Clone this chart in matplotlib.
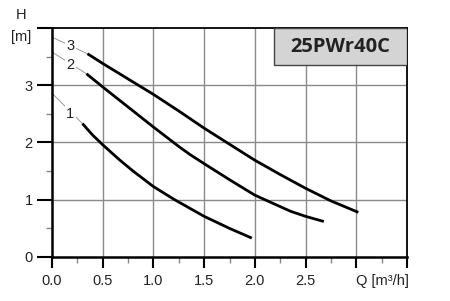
import matplotlib
matplotlib.use("Agg")
import matplotlib.pyplot as plt
from matplotlib.patches import Rectangle
import numpy as np

plt.rcParams['font.family'] = ['Liberation Sans', 'DejaVu Sans']

# Data
q1 = [0.30, 0.40, 0.50, 0.67, 0.80, 1.00, 1.20, 1.36, 1.50, 1.75, 1.97]
h1 = [2.33, 2.13, 1.96, 1.69, 1.50, 1.23, 1.01, 0.85, 0.71, 0.50, 0.33]
q2 = [0.34, 0.50, 0.75, 1.00, 1.25, 1.36, 1.50, 1.75, 2.00, 2.20, 2.35, 2.50, 2.68]
h2 = [3.20, 2.97, 2.62, 2.27, 1.93, 1.79, 1.63, 1.35, 1.08, 0.92, 0.80, 0.71, 0.62]
q3 = [0.35, 0.50, 0.75, 1.00, 1.25, 1.50, 1.75, 2.00, 2.25, 2.50, 2.75, 3.02]
h3 = [3.55, 3.38, 3.11, 2.84, 2.55, 2.25, 1.97, 1.69, 1.44, 1.20, 0.98, 0.78]
curve_labels = ["1", "2", "3"]
leader_start_h = [2.86, 3.58, 3.84]
label_pos = [(0.18, 2.50), (0.18, 3.35), (0.18, 3.68)]
x_ticks = [0.0, 0.5, 1.0, 1.5, 2.0, 2.5, 3.0, 3.5]
x_ticklabels = ["0.0", "0.5", "1.0", "1.5", "2.0", "2.5", "", ""]
y_ticks = [0, 1, 2, 3, 4]
y_ticklabels = ["0", "1", "2", "3", ""]
title = "25PWr40C"

fig = plt.figure(figsize=(4.5, 3.01), dpi=100)
ax = fig.add_axes([0.1156, 0.1462, 0.7888, 0.7608])
ax.set_xlim(0, 3.5)
ax.set_ylim(0, 4)

# grid
for xv in [0.5, 1.0, 1.5, 2.0, 2.5, 3.0]:
    ax.axvline(xv, color='#8a8a8a', lw=1.0, zorder=1)
for yv in [1, 2, 3]:
    ax.axhline(yv, color='#8a8a8a', lw=1.0, zorder=1)

# curves
for q, h in [(q1, h1), (q2, h2), (q3, h3)]:
    ax.plot(q, h, color='black', lw=2.0, solid_capstyle='butt',
            solid_joinstyle='round', zorder=3)

# leader lines and labels
for (q, h), lab, hs, (lx, ly) in zip([(q1, h1), (q2, h2), (q3, h3)],
                                     curve_labels, leader_start_h, label_pos):
    ax.plot([0, q[0]], [hs, h[0]], color='#999999', lw=0.7, zorder=2, clip_on=False)
    ax.text(lx, ly, lab, fontsize=10.5, ha='center', va='center', color='#222222',
            bbox=dict(boxstyle='square,pad=0.1', fc='white', ec='none'), zorder=4)

# title box
ax.add_patch(Rectangle((2.19, 3.35), 3.5 - 2.19, 0.65, facecolor='#d4d4d4',
                       edgecolor='#444444', lw=1.0, zorder=5))
ax.text((2.19 + 3.5) / 2, 3.675, title, fontsize=14.5, fontweight='bold',
        family=['Open Sans', 'DejaVu Sans'], color='#222222',
        ha='center', va='center', zorder=6)

# spines
for s in ['left', 'bottom']:
    ax.spines[s].set_linewidth(1.8)
for s in ['top', 'right']:
    ax.spines[s].set_linewidth(1.3)

ax.set_xticks(x_ticks)
ax.set_xticklabels(x_ticklabels)
ax.set_yticks(y_ticks)
ax.set_yticklabels(y_ticklabels)
ax.set_xticks(np.arange(0.25, 3.5, 0.5), minor=True)
ax.set_yticks(np.arange(0.5, 4, 1.0), minor=True)
ax.tick_params(axis='both', which='major', direction='out', length=8, width=1.5,
               labelsize=10.5, colors='black', labelcolor='#222222')
ax.tick_params(axis='x', which='major', pad=4)
ax.tick_params(axis='y', which='major', length=11, pad=3)
ax.tick_params(axis='both', which='minor', direction='out', length=4.5, width=1.0,
               color='#888888')

fig.text(21 / 450, 1 - 15 / 301, "H", fontsize=10.5, ha='center', va='center', color='#222222')
fig.text(21 / 450, 1 - 37 / 301, "[m]", fontsize=10.5, ha='center', va='center', color='#222222')
ax.text(3.0, -0.42, "Q [m³/h]", fontsize=10.5, ha='left', va='center', color='#222222')

fig.savefig("out.png", dpi=100)
